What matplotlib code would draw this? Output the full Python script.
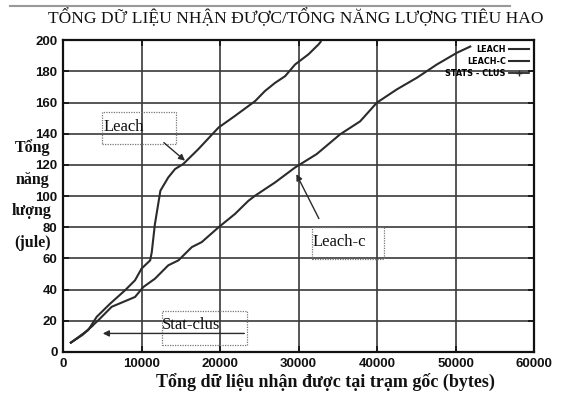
import matplotlib
matplotlib.use("Agg")
import matplotlib.pyplot as plt
from matplotlib.patches import Rectangle
from matplotlib.lines import Line2D

# Data: total data received at base station (bytes) vs. energy (jule)
leach_x = [1000, 3200, 4300, 6000, 7900, 9170, 10000, 11100, 11300, 11700, 12400,
           13400, 14270, 15300, 17200, 19800, 21900, 24460, 25700, 27000, 28280,
           29550, 31250, 32520, 32800]
leach_y = [6, 14, 22.6, 31, 39.6, 46, 53.5, 58.8, 64, 82, 103.5,
           112, 117.4, 120.6, 130, 144, 151.5, 161, 167.4, 172.7, 177,
           184.5, 191, 197.3, 199]

leachc_x = [1000, 2500, 4500, 6200, 9170, 10230, 11700, 13400, 14700, 16400, 17660,
            19800, 21900, 23600, 24460, 27000, 29550, 32300, 35290, 37830, 39960,
            42500, 45060, 47600, 50150, 51850]
leachc_y = [6, 11, 20.4, 29, 35.3, 41.7, 47, 55.6, 58.8, 67.3, 70.5,
            80, 88.6, 97, 100.3, 108.8, 118.4, 127, 139.7, 148, 160,
            168.5, 176, 184.5, 192, 196]

stats_x = [1000, 2000, 3000, 3800]
stats_y = [6, 9.5, 13.5, 17]

x_ticks = [0, 10000, 20000, 30000, 40000, 50000, 60000]
y_ticks = [0, 20, 40, 60, 80, 100, 120, 140, 160, 180, 200]

title = "TỔNG DỮ LIỆU NHẬN ĐƯỢC/TỔNG NĂNG LƯỢNG TIÊU HAO"
x_label = "Tổng dữ liệu nhận được tại trạm gốc (bytes)"
y_label = "Tổng\nnăng\nlượng\n(jule)"

ink = "#2b2b2b"
serif = ["Liberation Serif", "DejaVu Serif"]

fig = plt.figure(figsize=(5.63, 4.03), dpi=100)
ax = fig.add_axes([0.1119, 0.1266, 0.8371, 0.7734])

ax.plot(leach_x, leach_y, color=ink, lw=1.5, label="LEACH")
ax.plot(leachc_x, leachc_y, color=ink, lw=1.5, label="LEACH-C")
ax.plot(stats_x, stats_y, color=ink, lw=1.3, label="STATS - CLUS")

ax.set_xlim(0, 60000)
ax.set_ylim(0, 200)
ax.set_xticks(x_ticks)
ax.set_yticks(y_ticks)
ax.grid(True, color="#3a3a3a", lw=1.2)
ax.set_axisbelow(True)
for s in ax.spines.values():
    s.set_linewidth(1.6)
    s.set_color("#111111")
ax.tick_params(direction="in", length=4, width=1.2, top=True, right=True,
               labelsize=9.5, pad=4, colors="#111111")
for lbl in ax.get_xticklabels() + ax.get_yticklabels():
    lbl.set_fontweight("bold")
    lbl.set_fontfamily(["Liberation Sans", "DejaVu Sans"])

# Legend in the upper right, text before the line sample
handles = [Line2D([], [], color=ink, lw=1.5),
           Line2D([], [], color=ink, lw=1.5),
           Line2D([], [], color=ink, lw=1.3, marker="+", markersize=5)]
leg = ax.legend(handles, ["LEACH", "LEACH-C", "STATS - CLUS"], loc="upper right",
                frameon=False, markerfirst=False, handlelength=2.2,
                handletextpad=0.4, labelspacing=0.3, borderaxespad=0.15,
                prop={"family": ["DejaVu Sans"], "stretch": "condensed",
                      "size": 6.5, "weight": "bold"})
for t in leg.get_texts():
    t.set_ha("right")
leg._legend_box.align = "right"

# Callout boxes with arrows
box_kw = dict(fill=False, ec="#777777", lw=0.9, ls=(0, (1, 1)))
ax.add_patch(Rectangle((5006, 133.4), 9350, 20.6, **box_kw))
ax.text(5100, 144.5, "Leach", family=serif, fontsize=12, va="center", ha="left",
        color="#111111")
ax.annotate("", xy=(15800, 121.6), xytext=(12570, 135.5),
            arrowprops=dict(arrowstyle="-|>", color=ink, lw=1.0, mutation_scale=9))

ax.add_patch(Rectangle((31720, 59.4), 9170, 21.1, **box_kw))
ax.text(31800, 70.5, "Leach-c", family=serif, fontsize=12, va="center", ha="left",
        color="#111111")
ax.annotate("", xy=(29550, 115.7), xytext=(32740, 84),
            arrowprops=dict(arrowstyle="-|>", color=ink, lw=1.0, mutation_scale=9))

ax.add_patch(Rectangle((12610, 4.5), 10830, 21.9, **box_kw))
ax.text(12650, 17.3, "Stat-clus", family=serif, fontsize=12, va="center", ha="left",
        color="#111111")
ax.annotate("", xy=(4710, 11.9), xytext=(23440, 11.9),
            arrowprops=dict(arrowstyle="-|>", color=ink, lw=1.0, mutation_scale=9))

# Titles and labels
fig.add_artist(Line2D([0.018, 0.905], [0.985, 0.985], color="#999999", lw=1.5))
fig.text(0.525, 0.955, title, family=serif, fontsize=12.6, ha="center", va="center",
         color="#111111")
fig.text(0.578, 0.052, x_label, family=serif, fontsize=13, fontweight="bold",
         ha="center", va="center", color="#111111")
fig.text(0.057, 0.516, y_label, family=serif, fontsize=11.5, fontweight="bold",
         ha="center", va="center", linespacing=2.3, color="#111111")

fig.savefig("out.png", dpi=100, facecolor="white")
